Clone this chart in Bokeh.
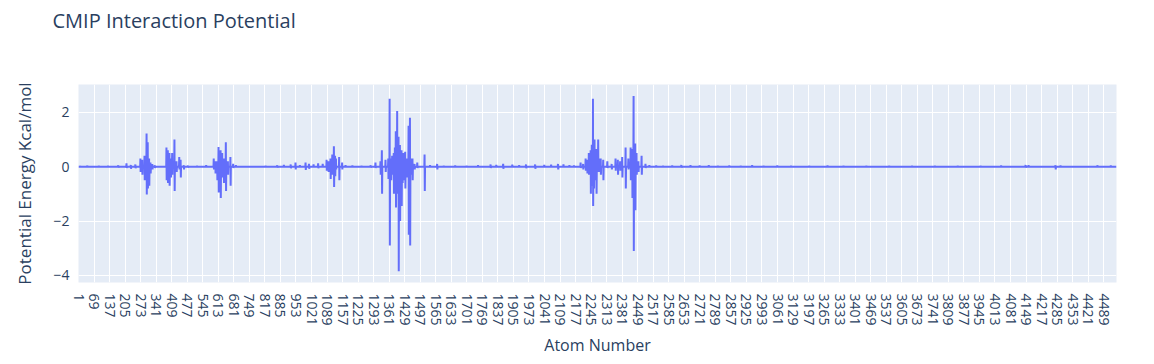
import numpy as np
from bokeh.plotting import figure
from bokeh.models import FixedTicker, Range1d, ColumnDataSource, Title
from bokeh.embed import file_html
from bokeh.resources import INLINE

# ---- data ----
n_atoms = 4545
title_text = "CMIP Interaction Potential"
x_title = "Atom Number"
y_title = "Potential Energy Kcal/mol"
x_tick_step = 68
y_ticks = [-4, -2, 0, 2]
y_tick_labels = ["\u22124", "\u22122", "0", "2"]

# atoms with a visible (non-zero) potential, and their energies (kcal/mol)
spike_atoms = [
    10, 11, 40, 41, 90, 130, 175, 176, 211, 212, 230, 231, 250, 251,
    272, 273, 280, 281, 290, 291, 299, 300, 304, 305, 310, 311, 316, 317, 324, 325, 335, 336,
    386, 387, 392, 393, 399, 400, 405, 406, 411, 412, 421, 422, 430, 431, 442, 443, 448, 449,
    462, 463, 480, 481, 520, 560,
    593, 594, 600, 601, 608, 609, 614, 615, 618, 619, 623, 624, 630, 631, 637, 638, 646, 647,
    655, 656, 666, 667, 678, 679, 690,
    760, 820, 871, 872, 900, 930, 931, 951, 952, 970, 995, 996, 1010, 1011, 1030, 1050, 1051, 1070,
    1087, 1088, 1095, 1096, 1104, 1105, 1112, 1113, 1119, 1120, 1124, 1125, 1128, 1129,
    1142, 1143, 1155, 1156, 1170, 1200, 1240, 1280, 1281,
    1301, 1302, 1323, 1324, 1329, 1330, 1345, 1346, 1357, 1358, 1363, 1364, 1369, 1370,
    1374, 1375, 1381, 1382, 1386, 1387, 1390, 1391, 1396, 1397, 1402, 1403, 1408, 1409,
    1415, 1416, 1419, 1420, 1423, 1424, 1431, 1432, 1437, 1438, 1446, 1447, 1452, 1453,
    1458, 1459, 1463, 1464, 1472, 1473, 1484, 1485, 1516, 1517, 1540, 1571, 1572,
    1600, 1650, 1700, 1750, 1805, 1806, 1830, 1860, 1861, 1900, 1930, 1960, 1961, 2000, 2001,
    2040, 2070, 2100, 2101, 2124, 2150, 2170,
    2199, 2200, 2210, 2211, 2221, 2222, 2228, 2229, 2235, 2236, 2243, 2244, 2248, 2249,
    2253, 2254, 2257, 2258, 2260, 2261, 2268, 2269, 2276, 2277, 2282, 2283, 2287, 2288,
    2298, 2299, 2316, 2317, 2335, 2336,
    2352, 2353, 2362, 2363, 2372, 2373, 2381, 2382, 2396, 2397, 2408, 2409, 2418, 2419,
    2425, 2426, 2431, 2432, 2438, 2439, 2444, 2445, 2452, 2453, 2466, 2467, 2483, 2484, 2500,
    2530, 2560, 2600, 2640, 2641, 2680, 2720, 2760, 2800, 2850, 2900, 2950, 3000, 3060, 3120,
    3200, 3280, 3350, 3450, 3550, 3650, 3750, 3850, 3950, 4040, 4147, 4148, 4160, 4278, 4279,
    4300, 4462, 4463, 4520,
]
spike_energies = [
    0.03, -0.03, 0.04, -0.03, 0.03, 0.03, 0.05, -0.04, 0.12, -0.05, 0.06, -0.08, 0.08, -0.06,
    0.3, -0.2, 0.25, -0.3, 0.4, -0.5, 1.22, -1.02, 0.9, -0.8, 0.3, -0.7, 0.15, -0.25, 0.1, -0.1, 0.05, -0.05,
    0.7, -0.5, 0.6, -0.6, 0.5, -0.7, 0.3, -0.4, 0.5, -0.3, 1.0, -0.9, 0.2, -0.2, 0.35, -0.1, 0.25, -0.4,
    0.05, -0.1, 0.04, -0.04, 0.03, 0.05,
    0.3, -0.1, 0.2, -0.25, 0.2, -0.5, 0.72, -0.95, 0.5, -0.7, 0.6, -1.15, 0.5, -0.4, 0.3, -0.6, 0.9, -0.9,
    0.2, -0.3, 0.35, -0.7, 0.1, -0.05, 0.05,
    0.02, 0.03, 0.05, -0.04, 0.06, 0.08, -0.06, 0.15, -0.1, 0.05, 0.15, -0.12, 0.1, -0.08, 0.08, 0.12, -0.06, 0.1,
    0.25, -0.15, 0.2, -0.2, 0.3, -0.45, 0.45, -0.3, 0.75, -0.75, 0.4, -0.35, 0.3, -0.1,
    0.35, -0.5, 0.15, -0.1, 0.05, 0.04, 0.03, 0.05, -0.04,
    0.15, -0.05, 0.2, -0.3, 0.6, -1.0, 0.25, -0.2, 0.3, -0.45, 2.5, -2.9, 0.3, -0.5,
    0.4, -0.3, 0.5, -1.0, 0.7, -0.8, 1.3, -1.5, 2.05, -1.0, 1.1, -3.85, 0.8, -2.0,
    0.6, -1.45, 0.3, -0.6, 0.5, -0.5, 0.55, -0.8, 0.3, -0.4, 1.5, -2.5, 1.8, -2.9,
    0.3, -0.3, 0.3, -0.5, 0.1, -0.1, 0.15, -0.05, 0.45, -0.9, 0.05, 0.1, -0.1,
    0.03, 0.04, 0.03, 0.05, 0.08, -0.05, 0.06, 0.1, -0.08, 0.07, 0.05, 0.08, -0.06, 0.08, -0.08,
    0.06, 0.07, 0.1, -0.1, 0.08, 0.05, 0.04,
    0.15, -0.05, 0.1, -0.1, 0.3, -0.15, 0.25, -0.25, 0.5, -0.3, 0.6, -1.0, 0.8, -0.7,
    2.5, -1.45, 0.9, -0.8, 1.0, -0.5, 0.65, -1.0, 1.0, -0.2, 0.3, -0.2, 0.3, -0.3,
    0.25, -0.5, 0.2, -0.05, 0.1, -0.1,
    0.3, -0.15, 0.25, -0.3, 0.2, -0.15, 0.35, -0.4, 0.7, -0.8, 0.3, -0.1, 0.7, -0.5,
    0.65, -1.15, 2.6, -3.1, 0.85, -1.6, 0.5, -0.3, 0.2, -0.2, 0.4, -0.3, 0.1, -0.05, 0.05,
    0.04, 0.03, 0.04, 0.06, -0.04, 0.05, 0.04, 0.05, 0.03, 0.04, 0.03, 0.05, 0.03, 0.04, 0.03,
    0.03, 0.04, 0.03, 0.03, 0.03, 0.03, 0.03, 0.03, 0.03, 0.04, 0.06, -0.04, 0.05, 0.05, -0.1,
    0.04, 0.05, -0.03, 0.04,
]

# ---- build the series (baseline 0 everywhere else) ----
atom_numbers = np.arange(1, n_atoms + 1)
energy = np.zeros(n_atoms)
energy[np.array(spike_atoms) - 1] = np.array(spike_energies)
source = ColumnDataSource(data=dict(atom=atom_numbers, energy=energy))

FONT = "Open Sans"
TXT = "#2a3f5f"

p = figure(
    width=1154, height=364,
    output_backend="svg", toolbar_location=None,
    x_range=Range1d(1, n_atoms), y_range=Range1d(-4.26, 3.02),
    min_border_left=78, min_border_right=38, min_border_top=84, min_border_bottom=82,
    background_fill_color="#e5ecf6", border_fill_color="white",
)
p.outline_line_color = None

p.title.text = title_text
p.title.text_font = FONT
p.title.text_font_size = "20px"
p.title.text_font_style = "normal"
p.title.text_color = TXT
p.title.offset = -26
p.title.standoff = 0

# empty spacer between the title and the plot area
spacer = Title(text=" ", text_font_size="1px", standoff=48)
p.add_layout(spacer, "above")

p.line("atom", "energy", source=source, line_color="#636efa", line_width=2)

# axes
p.xaxis.ticker = FixedTicker(ticks=list(range(1, n_atoms + 1, x_tick_step)))
p.yaxis.ticker = FixedTicker(ticks=y_ticks)
p.yaxis.major_label_overrides = {t: l for t, l in zip(y_ticks, y_tick_labels)}
p.xaxis.major_label_orientation = -np.pi / 2

for ax in (p.xaxis[0], p.yaxis[0]):
    ax.axis_line_color = None
    ax.major_tick_line_color = None
    ax.minor_tick_line_color = None
    ax.major_label_text_font = FONT
    ax.major_label_text_font_size = "14px"
    ax.major_label_text_color = TXT
    ax.axis_label_text_font = FONT
    ax.axis_label_text_font_style = "normal"
    ax.axis_label_text_color = TXT

p.xaxis.axis_label = x_title
p.yaxis.axis_label = y_title
p.xaxis.axis_label_text_font_size = "16px"
p.yaxis.axis_label_text_font_size = "17px"
p.xaxis.major_label_standoff = 5
p.yaxis.major_label_standoff = 3
p.xaxis.axis_label_standoff = 5
p.yaxis.axis_label_standoff = 14

p.xgrid.grid_line_color = "white"
p.ygrid.grid_line_color = "white"
p.xgrid.grid_line_width = 1
p.ygrid.grid_line_width = 1

open("out.html", "w").write(file_html(p, INLINE))
